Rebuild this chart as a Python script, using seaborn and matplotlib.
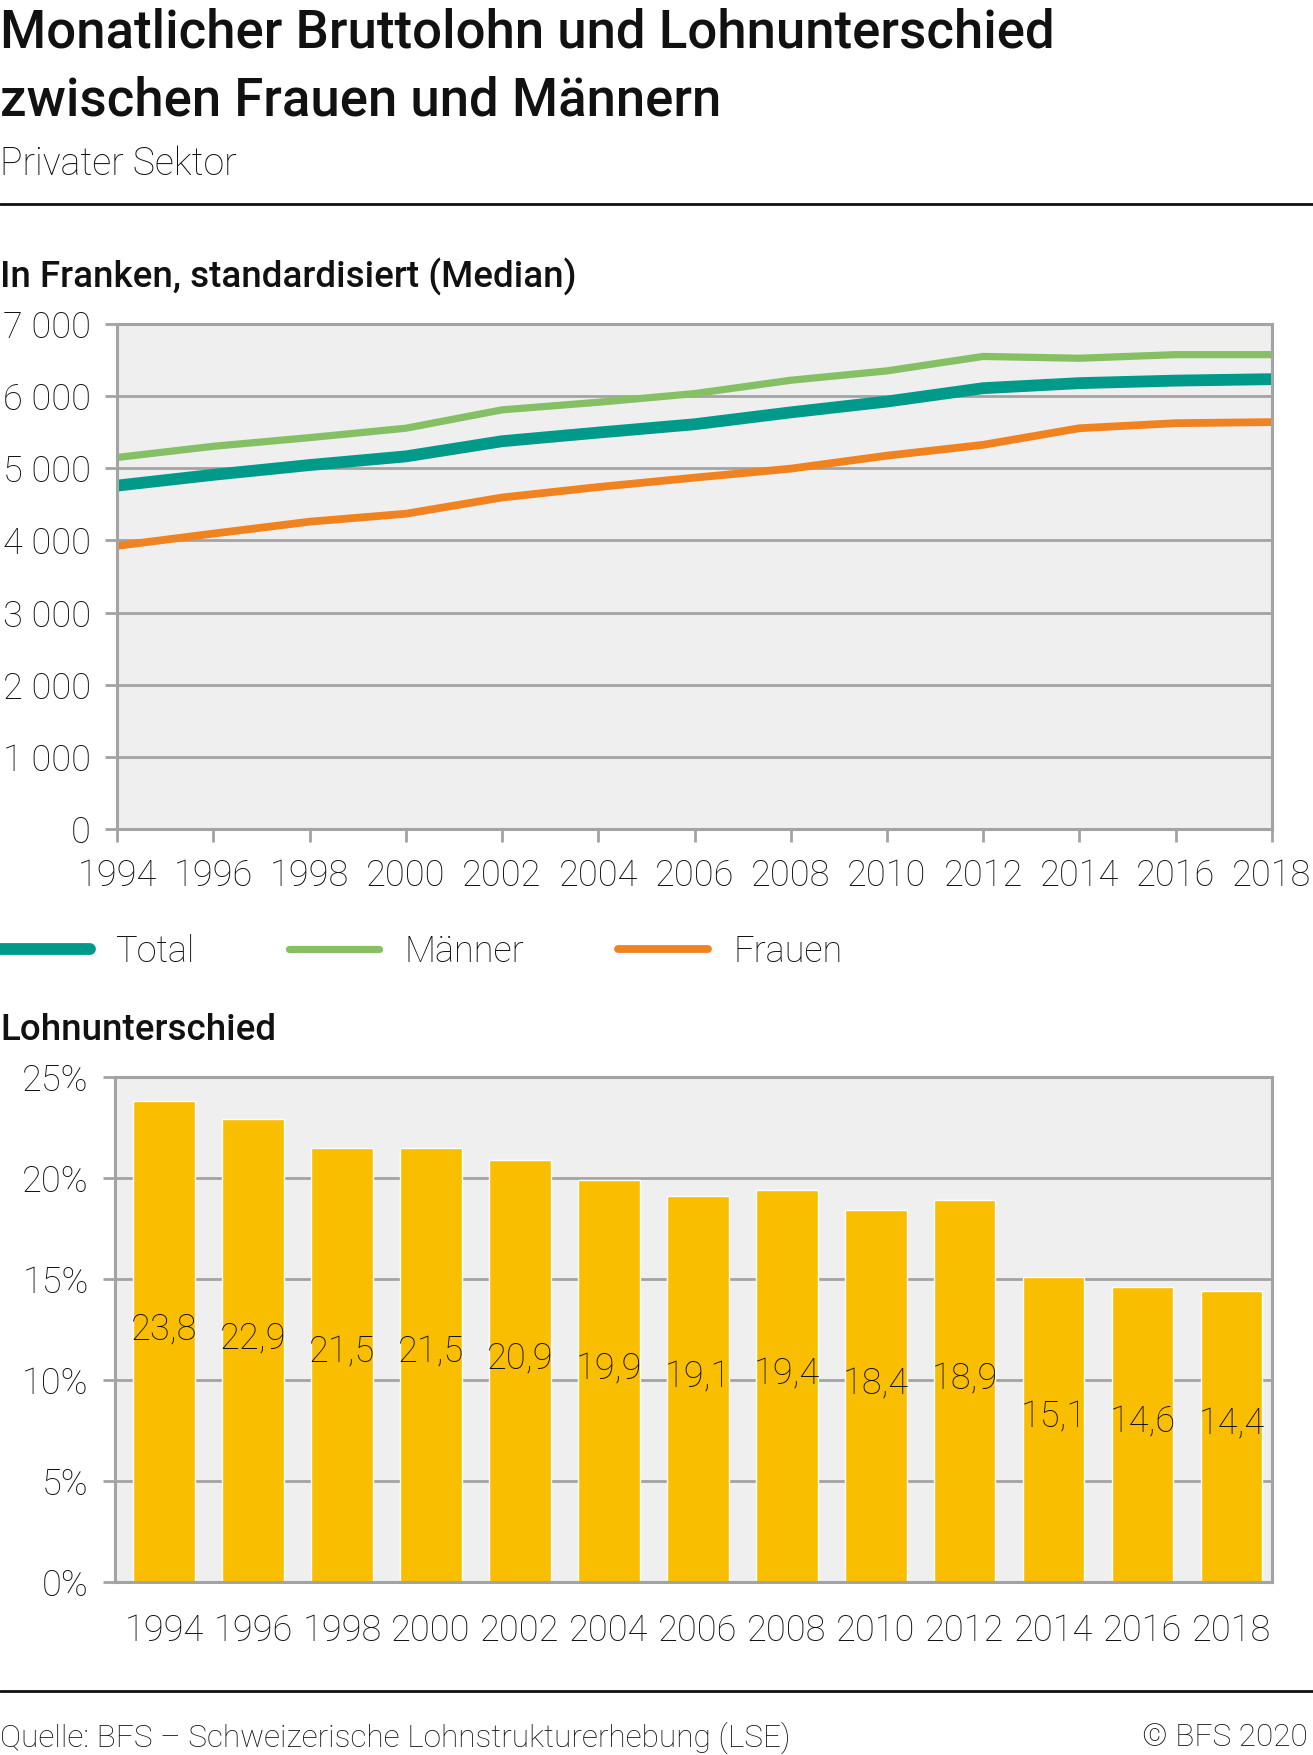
import seaborn as sns
import pandas as pd
import matplotlib.pyplot as plt
from matplotlib.lines import Line2D
from matplotlib.ticker import FuncFormatter

years = [1994, 1996, 1998, 2000, 2002, 2004, 2006, 2008, 2010, 2012, 2014, 2016, 2018]
total = [4760, 4910, 5045, 5165, 5375, 5495, 5610, 5775, 5925, 6110, 6180, 6215, 6235]
maenner = [5150, 5305, 5425, 5555, 5810, 5915, 6035, 6220, 6350, 6550, 6525, 6575, 6575]
frauen = [3925, 4095, 4260, 4370, 4595, 4740, 4870, 4995, 5175, 5325, 5555, 5625, 5640]
gap = [23.8, 22.9, 21.5, 21.5, 20.9, 19.9, 19.1, 19.4, 18.4, 18.9, 15.1, 14.6, 14.4]

c_total = "#009a8b"
c_men = "#86c064"
c_women = "#f08220"
c_bar = "#f9be00"
grid_c = "#a3a3a3"
bg_c = "#efefef"
txt = "#111111"
fs = 26

sns.set_style("white")
plt.rcParams['font.family'] = ['Roboto', 'DejaVu Sans']

fig = plt.figure(figsize=(13.13, 17.55), dpi=100)

# top chart: wages
ax1 = fig.add_axes([0.0893, 0.5276, 0.8793, 0.2878])
ax1.set_facecolor(bg_c)
lines = pd.DataFrame({"Jahr": years, "Total": total, "Männer": maenner, "Frauen": frauen})
sns.lineplot(data=lines, x="Jahr", y="Total", color=c_total, lw=8.5, label="Total", ax=ax1)
sns.lineplot(data=lines, x="Jahr", y="Männer", color=c_men, lw=5.2, label="Männer", ax=ax1)
sns.lineplot(data=lines, x="Jahr", y="Frauen", color=c_women, lw=5.6, label="Frauen", ax=ax1)
ax1.set_xlim(1994, 2018)
ax1.set_ylim(0, 7000)
ax1.set_xticks(years)
ax1.set_yticks(range(0, 7001, 1000))
ax1.yaxis.set_major_formatter(FuncFormatter(lambda v, p: f"{int(v):,}".replace(",", " ")))
ax1.grid(axis="y", color=grid_c, lw=2)
ax1.set_axisbelow(True)
ax1.set_xlabel("")
ax1.set_ylabel("")
for s in ax1.spines.values():
    s.set_color(grid_c)
    s.set_linewidth(2.2)
ax1.tick_params(axis="both", which="major", labelsize=fs, labelcolor=txt, color=grid_c,
                width=2, length=9, left=True, bottom=True)
ax1.tick_params(axis="y", pad=10)
ax1.tick_params(axis="x", pad=12)
for lab in ax1.get_xticklabels() + ax1.get_yticklabels():
    lab.set_fontweight("light")

handles, labels = ax1.get_legend_handles_labels()
ax1.get_legend().remove()
fig.legend(handles, labels, loc="center left", bbox_to_anchor=(0.0, 1 - 952 / 1755),
           ncol=3, frameon=False, handlelength=2.5, handletextpad=0.7,
           columnspacing=2.6, borderaxespad=0, borderpad=0, labelcolor=txt,
           prop={"weight": "light", "size": fs})

# bottom chart: wage gap
ax2 = fig.add_axes([0.0876, 0.0985, 0.881, 0.2878])
ax2.set_facecolor(bg_c)
bars = pd.DataFrame({"Jahr": [str(y) for y in years], "Lohnunterschied": gap})
sns.barplot(data=bars, x="Jahr", y="Lohnunterschied", color=c_bar, saturation=1,
            width=0.69, ax=ax2)
ax2.set_xlim(-0.55, 12.45)
ax2.set_ylim(0, 25)
ax2.set_yticks(range(0, 26, 5))
ax2.yaxis.set_major_formatter(FuncFormatter(lambda v, p: f"{int(v)}%"))
ax2.grid(axis="y", color=grid_c, lw=2)
ax2.set_axisbelow(True)
ax2.set_xlabel("")
ax2.set_ylabel("")
for s in ax2.spines.values():
    s.set_color(grid_c)
    s.set_linewidth(2.2)
ax2.tick_params(axis="both", labelsize=fs, labelcolor=txt, color=grid_c, width=2)
ax2.tick_params(axis="y", length=9, left=True, pad=10)
ax2.tick_params(axis="x", length=0, pad=22)
for lab in ax2.get_xticklabels() + ax2.get_yticklabels():
    lab.set_fontweight("light")
for i, v in enumerate(gap):
    ax2.text(i, v / 2 + 0.6, f"{v:.1f}".replace(".", ","), ha="center", va="center",
             fontsize=fs, fontweight="light", color=txt)

# texts and rules
fig.text(0.0, 1 - 47 / 1755, "Monatlicher Bruttolohn und Lohnunterschied", fontsize=38,
         fontweight="medium", color=txt, va="baseline")
fig.text(0.0, 1 - 115 / 1755, "zwischen Frauen und Männern", fontsize=38,
         fontweight="medium", color=txt, va="baseline")
fig.text(0.0, 1 - 164 / 1755, "Privater Sektor", fontsize=27, fontweight="light",
         color=txt, va="center")
fig.add_artist(Line2D([0, 1], [1 - 204 / 1755] * 2, color=txt, lw=2))
fig.text(0.0, 1 - 277 / 1755, "In Franken, standardisiert (Median)", fontsize=26.5,
         fontweight="medium", color=txt, va="center")
fig.text(0.0, 1 - 1030 / 1755, "Lohnunterschied", fontsize=26.5, fontweight="medium",
         color=txt, va="center")
fig.add_artist(Line2D([0, 1], [1 - 1691 / 1755] * 2, color=txt, lw=2))
fig.text(0.0, 1 - 1738 / 1755, "Quelle: BFS – Schweizerische Lohnstrukturerhebung (LSE)",
         fontsize=22.8, fontweight="light", color=txt, va="center")
fig.text(0.996, 1 - 1738 / 1755, "© BFS 2020", fontsize=22.8, fontweight="light",
         color=txt, va="center", ha="right")

fig.savefig("out.png", dpi=100)
